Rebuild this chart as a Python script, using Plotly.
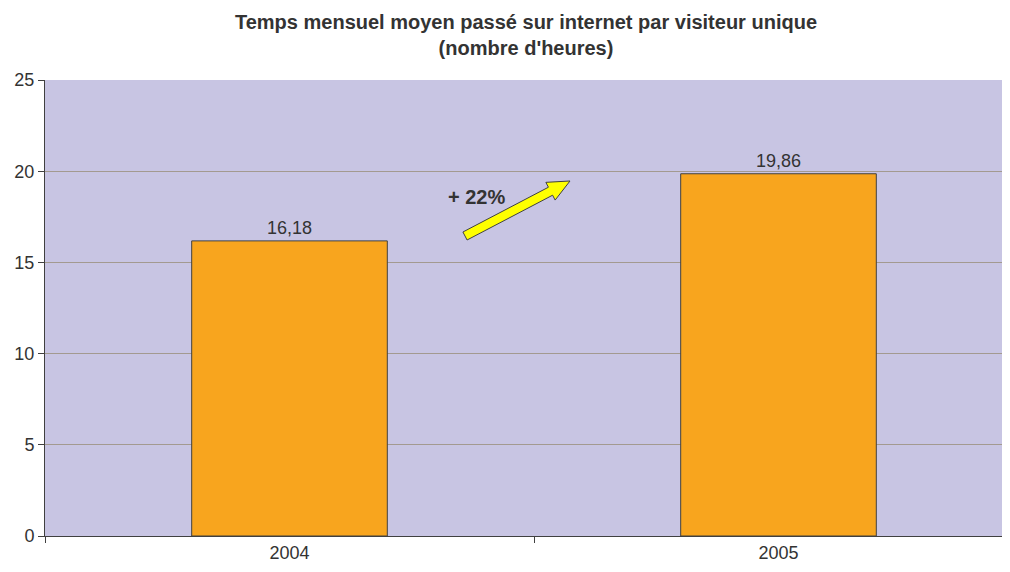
import plotly.graph_objects as go
import math

years = ["2004", "2005"]
hours = [16.18, 19.86]
labels = ["16,18", "19,86"]
growth_label = "+ 22%"
title_text = "<b>Temps mensuel moyen passé sur internet par visiteur unique<br>(nombre d'heures)</b>"

# page has an 8px body margin; compensate
OFF = 8
W, H = 1010, 572 - 2 * OFF
L, R, T = 45 - OFF, 0, 80 - OFF
B = (H + OFF) - 536
CAT_PX = 489  # pixel width of one category in the reference
x_hi = -0.5 + (W - L - R) / CAT_PX

def px_to_paper(x, y):
    x -= OFF
    y -= OFF
    return (x - L) / (W - L - R), (H - B - y) / (H - T - B)

fig = go.Figure()
fig.add_trace(go.Bar(
    x=years, y=hours, text=labels, textposition="outside",
    textfont=dict(size=18, color="#333333"),
    marker=dict(color="#F8A51E", line=dict(color="#404040", width=1)),
    width=0.4, cliponaxis=False,
))

# block arrow (decoration) defined in pixel space
tx, ty, hx, hy = 465, 236, 570, 181
dx, dy = hx - tx, hy - ty
ln = math.hypot(dx, dy)
ux, uy = dx / ln, dy / ln
nx, ny = -uy, ux
bx, by = hx - 22 * ux, hy - 22 * uy
pts = [
    (tx + 4.5 * nx, ty + 4.5 * ny),
    (bx + 4.5 * nx, by + 4.5 * ny),
    (bx + 10 * nx, by + 10 * ny),
    (hx, hy),
    (bx - 10 * nx, by - 10 * ny),
    (bx - 4.5 * nx, by - 4.5 * ny),
    (tx - 4.5 * nx, ty - 4.5 * ny),
]
pp = [px_to_paper(x, y) for x, y in pts]
path = "M " + " L ".join(f"{x:.5f},{y:.5f}" for x, y in pp) + " Z"
fig.add_shape(type="path", path=path, xref="paper", yref="paper",
              fillcolor="#FFFF00", line=dict(color="#404040", width=1))

ax, ay = px_to_paper(476, 197)
fig.add_annotation(x=ax, y=ay, xref="paper", yref="paper", text="<b>" + growth_label + "</b>",
                   showarrow=False, xanchor="center", yanchor="middle",
                   font=dict(size=20, color="#333333"))

fig.update_layout(
    width=W, height=H,
    margin=dict(l=L, r=R, t=T, b=B),
    paper_bgcolor="white",
    plot_bgcolor="#C8C5E3",
    font=dict(family="Liberation Sans, Arial, sans-serif", color="#333333"),
    title=dict(text=title_text, x=(526 - OFF) / W, xanchor="center",
               y=1 - (29 - OFF) / H, yanchor="middle",
               font=dict(size=20, color="#333333")),
    showlegend=False,
)
fig.update_xaxes(
    range=[-0.5, x_hi],
    showline=True, linecolor="#404040", linewidth=1,
    ticks="outside", ticklen=6, tickcolor="#404040", tickson="boundaries",
    tickfont=dict(size=18, color="#333333"), showgrid=False,
)
fig.update_yaxes(
    range=[0, 25], dtick=5, showline=True, linecolor="#404040", linewidth=1,
    ticks="outside", ticklen=6, tickcolor="#404040",
    tickfont=dict(size=18, color="#333333"),
    showgrid=True, gridcolor="#A39A90", gridwidth=1, zeroline=False,
)

fig.write_html("out.html")
